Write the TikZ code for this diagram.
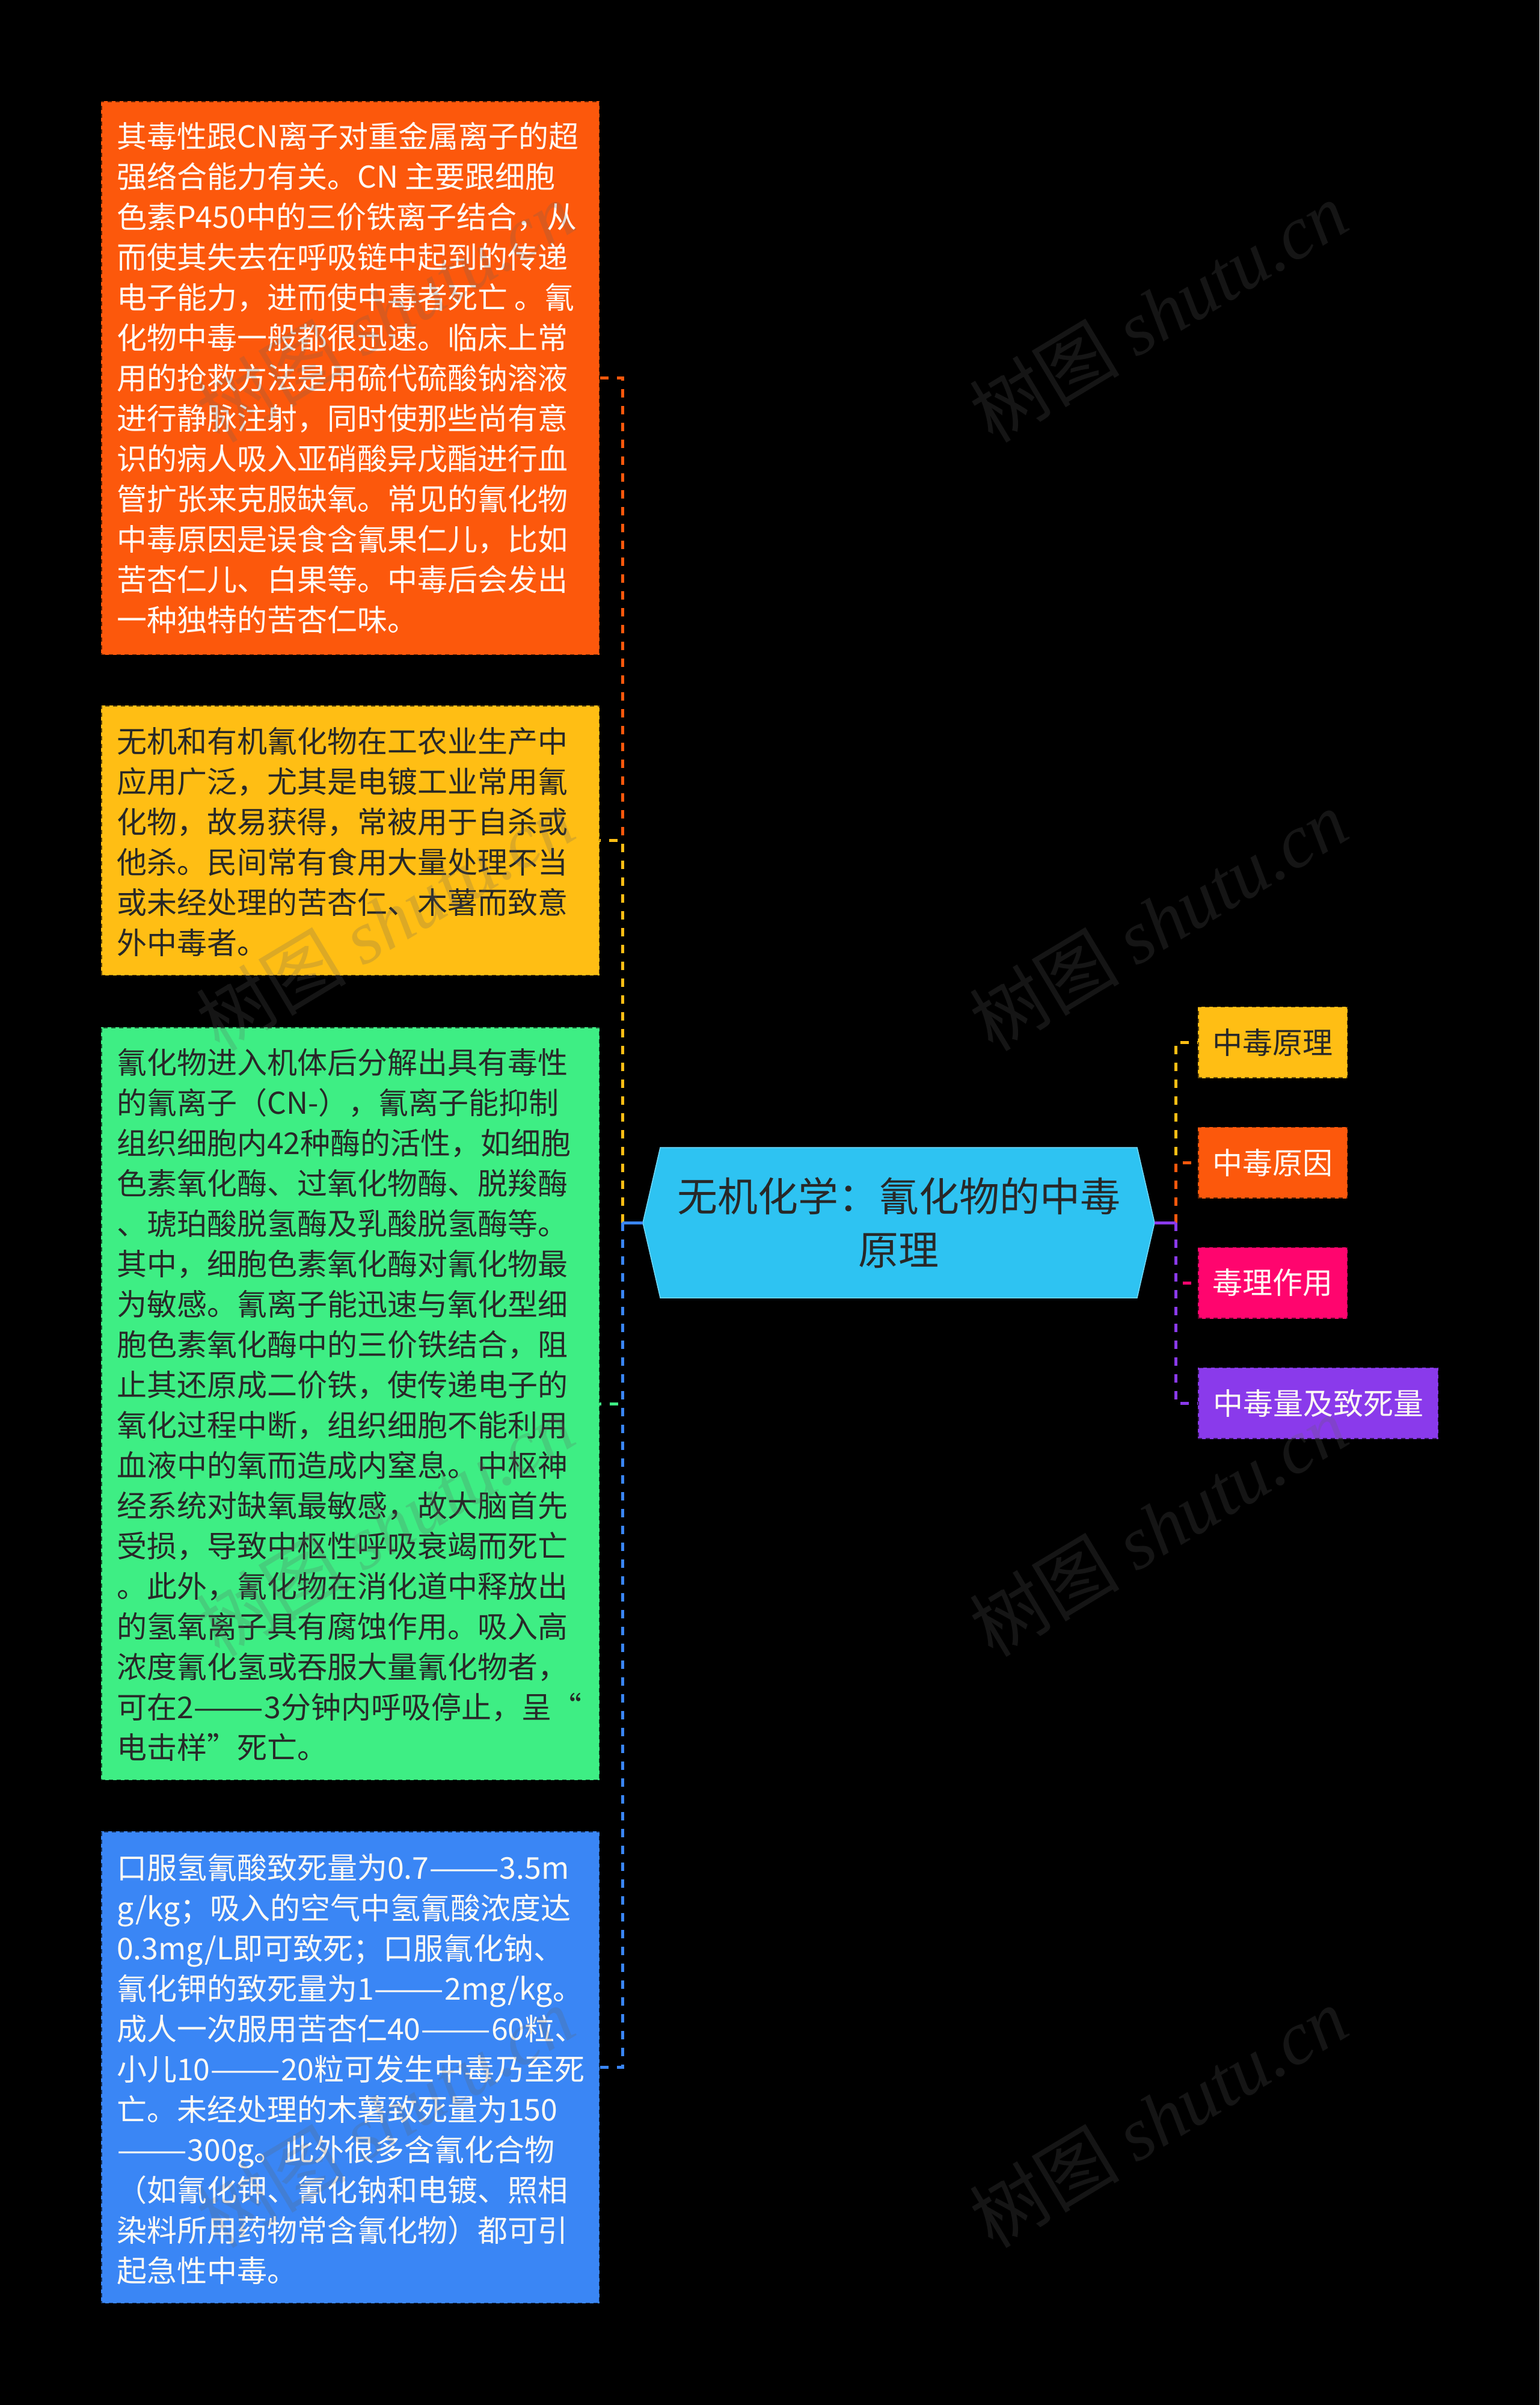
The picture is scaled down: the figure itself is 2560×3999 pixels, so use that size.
\documentclass[tikz,border=0pt]{standalone}
\usepackage{fontspec}
\usepackage{graphicx}
\setmainfont{Noto Sans CJK SC}
\newfontfamily\wmcjk{Noto Sans CJK SC}
\newfontfamily\wmlat{Liberation Serif}
\definecolor{cOrange}{RGB}{252,88,12}
\definecolor{cYellow}{RGB}{255,190,20}
\definecolor{cGreen}{RGB}{62,238,132}
\definecolor{cBlue}{RGB}{58,134,245}
\definecolor{cCyan}{RGB}{46,195,242}
\definecolor{cCyanEdge}{RGB}{110,215,248}
\definecolor{cPink}{RGB}{255,5,110}
\definecolor{cPurple}{RGB}{138,58,235}
\definecolor{cDark}{RGB}{40,40,40}
\definecolor{cWhite}{RGB}{255,250,245}
\definecolor{cWM}{RGB}{98,98,98}
\newcommand\boxtext[1]{\parbox[t]{900pt}{\raggedright\fontsize{50pt}{67pt}\selectfont #1}}
\newcommand\dd{\scalebox{1.4}[1]{——}}
\tikzset{
  lbox/.style={rectangle, inner sep=0pt, outer sep=0pt, minimum width=829pt,
    draw=black, draw opacity=0.6, line width=3pt, dash pattern=on 7pt off 6pt},
  rbox/.style={rectangle, inner sep=0pt, outer sep=0pt, minimum height=119pt,
    draw=black, draw opacity=0.6, line width=3pt, dash pattern=on 7pt off 6pt,
    font=\fontsize{50pt}{60pt}\selectfont},
  btext/.style={anchor=base west, inner sep=0pt},
  dconn/.style={line width=5pt, dash pattern=on 14pt off 14pt},
  sconn/.style={line width=5pt},
  wmark/.style={rotate=31, text=cWM, text opacity=0.22, inner sep=0pt,
    font=\fontsize{125pt}{130pt}\selectfont}
}
\begin{document}
\begin{tikzpicture}[x=1pt,y=-1pt]
\fill[black] (0,0) rectangle (2560,3999);
\useasboundingbox (0,0) rectangle (2560,3999);

% root
\fill[cCyan, draw=cCyanEdge, line width=1.5pt] (1098,1908) -- (1891,1908) -- (1920,2033) -- (1891,2158) -- (1098,2158) -- (1069,2033) -- cycle;
\node[minimum width=851pt, minimum height=250pt, inner sep=0pt, outer sep=0pt, align=center, text=cDark,
  font=\fontsize{67pt}{89pt}\selectfont] (root) at (1494.5,2033) {无机化学：氰化物的中毒\\原理};

% left boxes
\node[lbox, fill=cOrange, minimum height=921pt] (b1) at (582.5,628.5) {};
\node[lbox, fill=cYellow, minimum height=449pt] (b2) at (582.5,1397.5) {};
\node[lbox, fill=cGreen, minimum height=1252pt] (b3) at (582.5,2334) {};
\node[lbox, fill=cBlue, minimum height=785pt] (b4) at (582.5,3437.5) {};

\node[btext, text=cWhite] (t1) at (194,245) {\boxtext{其毒性跟CN离子对重金属离子的超\\
强络合能力有关。CN 主要跟细胞\\
色素P450中的三价铁离子结合，从\\
而使其失去在呼吸链中起到的传递\\
电子能力，进而使中毒者死亡 。氰\\
化物中毒一般都很迅速。临床上常\\
用的抢救方法是用硫代硫酸钠溶液\\
进行静脉注射，同时使那些尚有意\\
识的病人吸入亚硝酸异戊酯进行血\\
管扩张来克服缺氧。常见的氰化物\\
中毒原因是误食含氰果仁儿，比如\\
苦杏仁儿、白果等。中毒后会发出\\
一种独特的苦杏仁味。}};

\node[btext, text=cDark] (t2) at (194,1251) {\boxtext{无机和有机氰化物在工农业生产中\\
应用广泛，尤其是电镀工业常用氰\\
化物，故易获得，常被用于自杀或\\
他杀。民间常有食用大量处理不当\\
或未经处理的苦杏仁、木薯而致意\\
外中毒者。}};

\node[btext, text=cDark] (t3) at (194,1785) {\boxtext{氰化物进入机体后分解出具有毒性\\
的氰离子（CN-），氰离子能抑制\\
组织细胞内42种酶的活性，如细胞\\
色素氧化酶、过氧化物酶、脱羧酶\\
、琥珀酸脱氢酶及乳酸脱氢酶等。\\
其中，细胞色素氧化酶对氰化物最\\
为敏感。氰离子能迅速与氧化型细\\
胞色素氧化酶中的三价铁结合，阻\\
止其还原成二价铁，使传递电子的\\
氧化过程中断，组织细胞不能利用\\
血液中的氧而造成内窒息。中枢神\\
经系统对缺氧最敏感，故大脑首先\\
受损，导致中枢性呼吸衰竭而死亡\\
。此外，氰化物在消化道中释放出\\
的氢氧离子具有腐蚀作用。吸入高\\
浓度氰化氢或吞服大量氰化物者，\\
可在2\dd 3分钟内呼吸停止，呈“\\
电击样”死亡。}};

\node[btext, text=cWhite] (t4) at (194,3124) {\boxtext{口服氢氰酸致死量为0.7\dd 3.5m\\
g/kg；吸入的空气中氢氰酸浓度达\\
0.3mg/L即可致死；口服氰化钠、\\
氰化钾的致死量为1\dd 2mg/kg。\\
成人一次服用苦杏仁40\dd 60粒、\\
小儿10\dd 20粒可发生中毒乃至死\\
亡。未经处理的木薯致死量为150\\
\dd 300g。此外很多含氰化合物\\
（如氰化钾、氰化钠和电镀、照相\\
染料所用药物常含氰化物）都可引\\
起急性中毒。}};

% right nodes
\node[rbox, fill=cYellow, text=cDark, minimum width=249pt] (r1) at (2116.5,1733) {中毒原理};
\node[rbox, fill=cOrange, text=cWhite, minimum width=249pt] (r2) at (2116.5,1933) {中毒原因};
\node[rbox, fill=cPink, text=cWhite, minimum width=249pt] (r3) at (2116.5,2133) {毒理作用};
\node[rbox, fill=cPurple, text=cWhite, minimum width=400pt] (r4) at (2192,2333) {中毒量及致死量};

% connectors
\coordinate (lt) at (1035,2033);
\coordinate (rt) at (1955,2033);
\draw[dconn, cOrange] (lt) |- (b1.east);
\draw[dconn, cYellow] (lt) |- (b2.east);
\draw[dconn, cGreen] (lt) |- (b3.east);
\draw[dconn, cBlue] (lt) |- (b4.east);
\draw[sconn, cBlue] (root.west) -- (lt);
\draw[dconn, cYellow] (rt) |- (r1.west);
\draw[dconn, cOrange] (rt) |- (r2.west);
\draw[dconn, cPink] (rt) |- (r3.west);
\draw[dconn, cPurple] (rt) |- (r4.west);
\draw[sconn, cPurple] (root.east) -- (rt);

% watermarks
\foreach \wx/\wy [count=\i] in {640/518, 640/1530, 640/2537, 640/3520, 1926/518, 1926/1530, 1926/2537, 1926/3520} {
  \node[wmark] (wm\i) at (\wx,\wy) {{\wmcjk 树图} {\wmlat\itshape shutu.cn}};
}
\end{tikzpicture}
\end{document}
